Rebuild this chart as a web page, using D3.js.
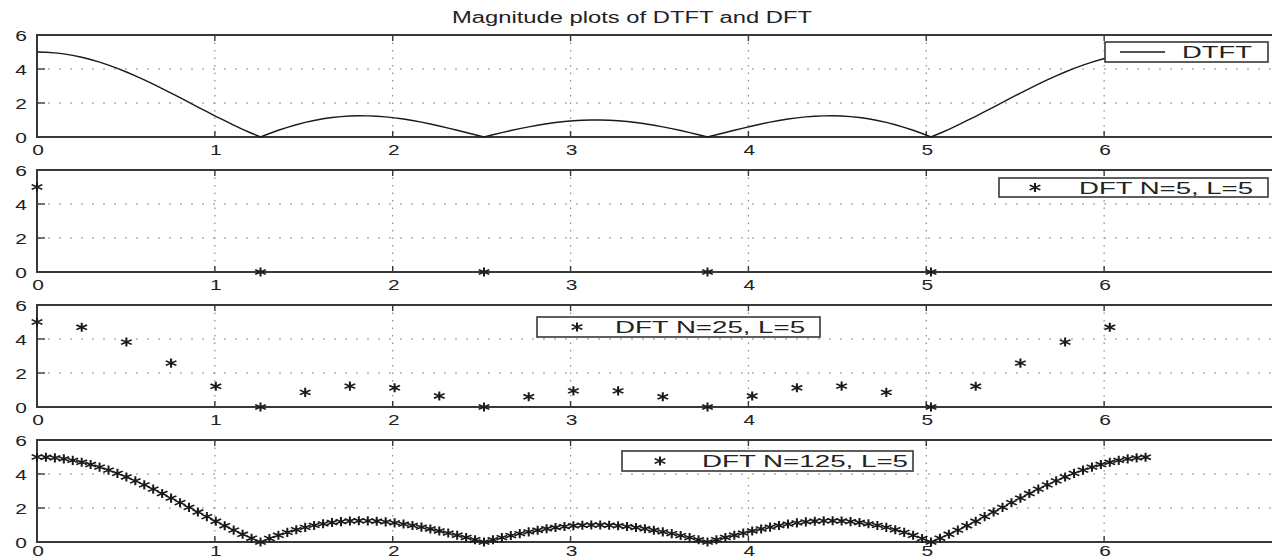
<!DOCTYPE html>
<html>
<head>
<meta charset="utf-8">
<script src="https://cdn.jsdelivr.net/npm/d3@7"></script>
<style>
  html, body { margin: 0; padding: 0; background: #fff; }
  text { font-family: "Liberation Sans", Arial, sans-serif; fill: #222; }
</style>
</head>
<body>
<div id="magplots"></div>
<script>
// ------------------------------------------------------------------------ //
// DATA
// ------------------------------------------------------------------------ //

var titleText = "Magnitude plots of DTFT and DFT"
var legendLabels = ["DTFT", "DFT N=5, L=5", "DFT N=25, L=5", "DFT N=125, L=5"]
var xTicks = [0, 1, 2, 3, 4, 5, 6]
var yTicks = [0, 2, 4, 6]

// |X(k)| for N=5
var dft5Mag = [5, 0, 0, 0, 0]

// |X(k)| for N=25
var dft25Mag = [5, 4.69, 3.82, 2.58, 1.22, 0, 0.86, 1.23, 1.13, 0.65,
  0, 0.6, 0.95, 0.95, 0.6, 0, 0.65, 1.13, 1.23, 0.86,
  0, 1.22, 2.58, 3.82, 4.69]

// |X(k)| for N=125
var dft125Mag = [5, 4.987, 4.950, 4.887, 4.800, 4.690, 4.557, 4.402, 4.228, 4.035,
  3.824, 3.599, 3.360, 3.110, 2.850, 2.584, 2.312, 2.038, 1.763, 1.490,
  1.220, 0.957, 0.701, 0.455, 0.221, 0, 0.206, 0.396, 0.569, 0.723,
  0.859, 0.974, 1.070, 1.145, 1.200, 1.234, 1.249, 1.245, 1.223, 1.183,
  1.126, 1.055, 0.970, 0.873, 0.766, 0.650, 0.526, 0.398, 0.266, 0.133,
  0, 0.131, 0.258, 0.379, 0.493, 0.598, 0.694, 0.778, 0.850, 0.908,
  0.953, 0.983, 0.998, 0.998, 0.983, 0.953, 0.908, 0.850, 0.778, 0.694,
  0.598, 0.493, 0.379, 0.258, 0.131, 0, 0.133, 0.266, 0.398, 0.526,
  0.650, 0.766, 0.873, 0.970, 1.055, 1.126, 1.183, 1.223, 1.245, 1.249,
  1.234, 1.200, 1.145, 1.070, 0.974, 0.859, 0.723, 0.569, 0.396, 0.206,
  0, 0.221, 0.455, 0.701, 0.957, 1.220, 1.490, 1.763, 2.038, 2.312,
  2.584, 2.850, 3.110, 3.360, 3.599, 3.824, 4.035, 4.228, 4.402, 4.557,
  4.690, 4.800, 4.887, 4.950, 4.987]

// DTFT curve: the dense samples plus the end point at w = 2*pi
var dtftMag = dft125Mag.concat([5])

// frequency of bin k for an N point DFT
function binFreq(N) { return function(d, k) { return { w: 2 * Math.PI * k / N, m: d } } }

var series = [
  dtftMag.map(binFreq(125)),
  dft5Mag.map(binFreq(5)),
  dft25Mag.map(binFreq(25)),
  dft125Mag.map(binFreq(125))
]

// ------------------------------------------------------------------------ //
// SVG AREA
// ------------------------------------------------------------------------ //

var W = 1272, H = 560
var panelH = 102
var panels = [
  { top: 35,  kind: "line",  legend: { x: 1105, dy: 7,  w: 163, h: 20, tx: 1182, tl: 70,  mx: 1142 } },
  { top: 170, kind: "star",  legend: { x: 999,  dy: 8,  w: 269, h: 19, tx: 1079, tl: 174, mx: 1035 } },
  { top: 305, kind: "star",  legend: { x: 537,  dy: 12, w: 283, h: 20, tx: 615,  tl: 190, mx: 577 } },
  { top: 440, kind: "star",  legend: { x: 622,  dy: 11, w: 291, h: 20, tx: 702,  tl: 206, mx: 660 } }
]

var svg = d3.select("#magplots")
  .append("svg")
    .attr("width", W)
    .attr("height", H)
    .style("background", "#fff")

// x goes 0..7 like the MATLAB auto limits, the right edge falls off the picture
var x = d3.scaleLinear()
  .domain([0, 7])
  .range([37, 1282])

var star = d3.symbol().type(d3.symbolAsterisk).size(58)
var ink = "#1a1a1a"
var frameInk = "#383838"

// title
svg.append("text")
  .attr("x", 452)
  .attr("y", 23)
  .attr("textLength", 360)
  .attr("lengthAdjust", "spacingAndGlyphs")
  .style("font-size", "16px")
  .text(titleText)

// ------------------------------------------------------------------------ //
// PANELS
// ------------------------------------------------------------------------ //

panels.forEach(function(p, i) {
  var bottom = p.top + panelH
  var y = d3.scaleLinear()
    .domain([0, 6])
    .range([bottom, p.top])

  var g = svg.append("g")

  // dotted grid
  g.selectAll("vgrid")
    .data(xTicks.slice(1))
    .enter()
    .append("line")
      .attr("x1", function(d) { return x(d) })
      .attr("x2", function(d) { return x(d) })
      .attr("y1", p.top)
      .attr("y2", bottom)
      .style("stroke", "#8a8a8a")
      .style("stroke-width", 1.2)
      .style("stroke-dasharray", "1.5,6")
  g.selectAll("hgrid")
    .data(yTicks.slice(1, -1))
    .enter()
    .append("line")
      .attr("x1", x(0))
      .attr("x2", x(7))
      .attr("y1", function(d) { return y(d) })
      .attr("y2", function(d) { return y(d) })
      .style("stroke", "#8a8a8a")
      .style("stroke-width", 1.2)
      .style("stroke-dasharray", "2,9")

  // frame
  g.append("rect")
    .attr("x", x(0))
    .attr("y", p.top)
    .attr("width", x(7) - x(0))
    .attr("height", panelH)
    .style("fill", "none")
    .style("stroke", frameInk)
    .style("stroke-width", 2)

  // inward ticks
  g.selectAll("xtickTop")
    .data(xTicks.slice(1))
    .enter()
    .append("line")
      .attr("x1", function(d) { return x(d) })
      .attr("x2", function(d) { return x(d) })
      .attr("y1", p.top)
      .attr("y2", p.top + 6)
      .style("stroke", frameInk)
      .style("stroke-width", 1.4)
  g.selectAll("xtickBot")
    .data(xTicks.slice(1))
    .enter()
    .append("line")
      .attr("x1", function(d) { return x(d) })
      .attr("x2", function(d) { return x(d) })
      .attr("y1", bottom)
      .attr("y2", bottom - 6)
      .style("stroke", frameInk)
      .style("stroke-width", 1.4)
  g.selectAll("ytick")
    .data(yTicks.slice(1, -1))
    .enter()
    .append("line")
      .attr("x1", x(0))
      .attr("x2", x(0) + 8)
      .attr("y1", function(d) { return y(d) })
      .attr("y2", function(d) { return y(d) })
      .style("stroke", frameInk)
      .style("stroke-width", 1.4)

  // tick labels (the picture is stretched sideways, so are the digits)
  // last row pulled up a little so it stays inside the page
  var labelDrop = (i == panels.length - 1) ? 14 : 17.5
  g.selectAll("xlabel")
    .data(xTicks)
    .enter()
    .append("text")
      .attr("transform", function(d) { return "translate(" + (x(d) + 1) + "," + (bottom + labelDrop) + ")scale(1.35,1)" })
      .style("text-anchor", "middle")
      .style("font-size", "15.5px")
      .text(function(d) { return d })
  g.selectAll("ylabel")
    .data(yTicks)
    .enter()
    .append("text")
      .attr("transform", function(d) { return "translate(21," + (y(d) + 5.5) + ")scale(1.35,1)" })
      .style("text-anchor", "middle")
      .style("font-size", "15.5px")
      .text(function(d) { return d })

  // data
  var data = series[i]
  if (p.kind == "line") {
    g.append("path")
      .datum(data)
      .attr("d", d3.line()
        .x(function(d) { return x(d.w) })
        .y(function(d) { return y(d.m) }))
      .style("fill", "none")
      .style("stroke", ink)
      .style("stroke-width", 1.4)
  } else {
    g.selectAll("pt")
      .data(data)
      .enter()
      .append("path")
        .attr("d", star)
        .attr("transform", function(d) { return "translate(" + x(d.w) + "," + y(d.m) + ")scale(1.35,1)" })
        .style("fill", "none")
        .style("stroke", ink)
        .style("stroke-width", 1.5)
  }

  // legend
  var L = p.legend
  var ly = p.top + L.dy
  var lg = g.append("g")
  lg.append("rect")
    .attr("x", L.x)
    .attr("y", ly)
    .attr("width", L.w)
    .attr("height", L.h)
    .style("fill", "#fff")
    .style("stroke", frameInk)
    .style("stroke-width", 1.6)
  if (p.kind == "line") {
    lg.append("line")
      .attr("x1", L.mx - 22)
      .attr("x2", L.mx + 23)
      .attr("y1", ly + L.h / 2)
      .attr("y2", ly + L.h / 2)
      .style("stroke", ink)
      .style("stroke-width", 1.3)
  } else {
    lg.append("path")
      .attr("d", star)
      .attr("transform", "translate(" + L.mx + "," + (ly + L.h / 2) + ")scale(1.35,1)")
      .style("fill", "none")
      .style("stroke", ink)
      .style("stroke-width", 1.5)
  }
  lg.append("text")
    .attr("x", L.tx)
    .attr("y", ly + L.h / 2 + 6)
    .attr("textLength", L.tl)
    .attr("lengthAdjust", "spacingAndGlyphs")
    .style("font-size", "16px")
    .text(legendLabels[i])
})
</script>
</body>
</html>
